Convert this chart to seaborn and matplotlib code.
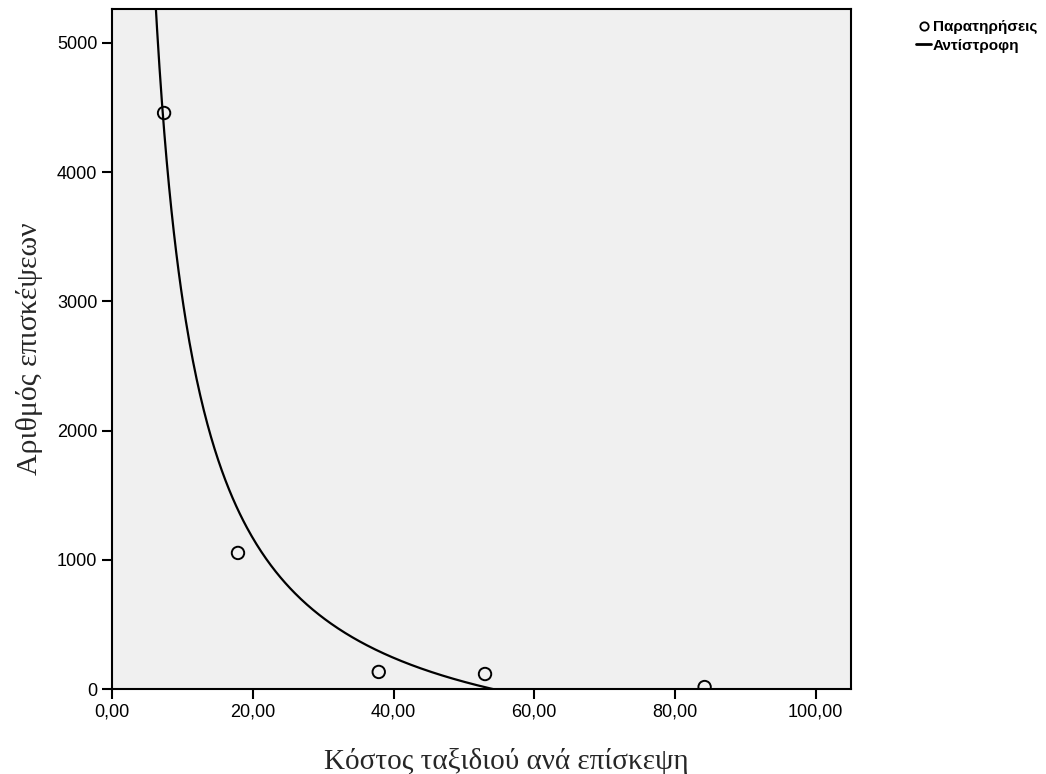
import numpy as np
import pandas as pd
import matplotlib
matplotlib.use("Agg")
import matplotlib.pyplot as plt
import seaborn as sns
from matplotlib.lines import Line2D

# Data
cost = [7.4, 17.9, 37.9, 53.0, 84.2]
visits = [4458, 1053, 132, 116, 15]
x_ticks = [0, 20, 40, 60, 80, 100]
y_ticks = [0, 1000, 2000, 3000, 4000, 5000]
x_label = "Κόστος ταξιδιού ανά επίσκεψη"
y_label = "Αριθμός επισκέψεων"
legend_labels = ["Παρατηρήσεις", "Αντίστροφη"]

sns.set_style("ticks")
plt.rcParams['font.family'] = ['Liberation Sans', 'DejaVu Sans']

df = pd.DataFrame({"cost": cost, "visits": visits})

# Inverse model fit: y = b0 + b1 / x
b1, b0 = np.polyfit(1.0 / np.array(cost), np.array(visits), 1)
xs = np.linspace(3, 105, 600)
fit = pd.DataFrame({"cost": xs, "visits": b0 + b1 / xs})

fig = plt.figure(figsize=(10.46, 7.74), dpi=100)
ax = fig.add_axes([112 / 1046, 1 - 689 / 774, (851 - 112) / 1046, (689 - 9) / 774])
ax.set_facecolor("#F0F0F0")

sns.lineplot(data=fit, x="cost", y="visits", ax=ax, color="black", linewidth=1.6, sort=False)
sns.scatterplot(data=df, x="cost", y="visits", ax=ax, marker="o", s=80,
                facecolor="none", edgecolor="black", linewidth=1.4, zorder=5)

ax.set_xlim(0, 105)
ax.set_ylim(0, 5263)
ax.set_xticks(x_ticks)
ax.set_xticklabels([f"{v:.2f}".replace(".", ",") for v in x_ticks])
ax.set_yticks(y_ticks)
ax.set_yticklabels([str(v) for v in y_ticks])
ax.tick_params(axis="both", direction="out", length=7, width=1.5, labelsize=13, colors="black")
for s in ax.spines.values():
    s.set_visible(True)
    s.set_linewidth(1.5)
    s.set_color("black")

ax.set_xlabel(x_label, family=["Liberation Serif", "DejaVu Serif"], fontsize=21, labelpad=20)
ax.xaxis.label.set_x(0.534)
ax.set_ylabel(y_label, family=["Liberation Serif", "DejaVu Serif"], fontsize=21.5, labelpad=10)

handles = [
    Line2D([], [], marker="o", linestyle="none", markerfacecolor="none",
           markeredgecolor="black", markersize=6, markeredgewidth=1.3),
    Line2D([], [], color="black", linewidth=2),
]
fig.legend(handles, legend_labels, loc="upper left", bbox_to_anchor=(916 / 1046, 1 - 20 / 774),
           frameon=False, handlelength=1.0, handletextpad=0.1, labelspacing=0.3,
           prop={"weight": "bold", "size": 11}, borderaxespad=0, borderpad=0,
           labelcolor="black")

fig.savefig("out.png", dpi=100, facecolor="white")
